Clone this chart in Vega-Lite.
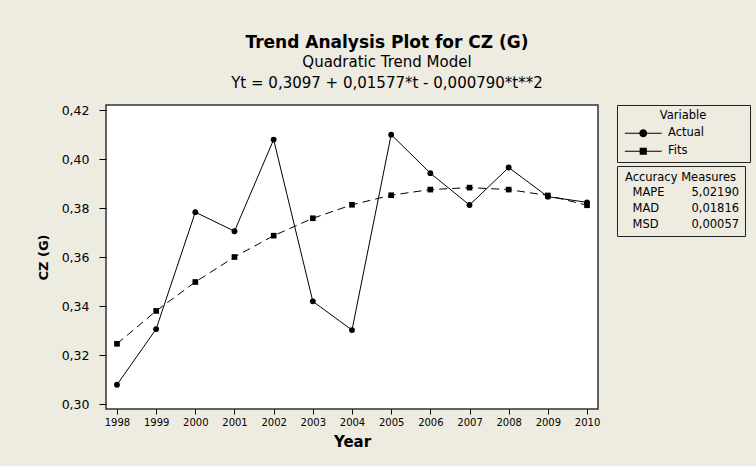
{
  "$schema": "https://vega.github.io/schema/vega-lite/v6.json",
  "autosize": {"type": "none"},
  "padding": {"left": 106, "top": 105, "right": 158, "bottom": 57},
  "width": 492,
  "height": 304,
  "background": "#EEEBE1",
  "title": {
    "text": "Trend Analysis Plot for CZ (G)",
    "subtitle": ["Quadratic Trend Model", "Yt = 0,3097 + 0,01577*t - 0,000790*t**2"],
    "anchor": "middle",
    "dx": 35,
    "offset": 10,
    "fontSize": 17,
    "fontWeight": "bold",
    "color": "black",
    "subtitleFontSize": 15,
    "subtitleColor": "black",
    "subtitlePadding": 3,
    "subtitleLineHeight": 21
  },
  "config": {
    "font": "DejaVu Sans",
    "view": {"stroke": "#333333", "strokeWidth": 1.5, "fill": "white"}
  },
  "data": {
    "values": [
      {"Year": 1998, "Series": "Actual", "Value": 0.308},
      {"Year": 1999, "Series": "Actual", "Value": 0.3307},
      {"Year": 2000, "Series": "Actual", "Value": 0.3784},
      {"Year": 2001, "Series": "Actual", "Value": 0.3706},
      {"Year": 2002, "Series": "Actual", "Value": 0.408},
      {"Year": 2003, "Series": "Actual", "Value": 0.342},
      {"Year": 2004, "Series": "Actual", "Value": 0.3303},
      {"Year": 2005, "Series": "Actual", "Value": 0.41},
      {"Year": 2006, "Series": "Actual", "Value": 0.3943},
      {"Year": 2007, "Series": "Actual", "Value": 0.3813},
      {"Year": 2008, "Series": "Actual", "Value": 0.3966},
      {"Year": 2009, "Series": "Actual", "Value": 0.3847},
      {"Year": 2010, "Series": "Actual", "Value": 0.3824},
      {"Year": 1998, "Series": "Fits", "Value": 0.3247},
      {"Year": 1999, "Series": "Fits", "Value": 0.3381},
      {"Year": 2000, "Series": "Fits", "Value": 0.3499},
      {"Year": 2001, "Series": "Fits", "Value": 0.3601},
      {"Year": 2002, "Series": "Fits", "Value": 0.3688},
      {"Year": 2003, "Series": "Fits", "Value": 0.3759},
      {"Year": 2004, "Series": "Fits", "Value": 0.3814},
      {"Year": 2005, "Series": "Fits", "Value": 0.3853},
      {"Year": 2006, "Series": "Fits", "Value": 0.3876},
      {"Year": 2007, "Series": "Fits", "Value": 0.3884},
      {"Year": 2008, "Series": "Fits", "Value": 0.3876},
      {"Year": 2009, "Series": "Fits", "Value": 0.3852},
      {"Year": 2010, "Series": "Fits", "Value": 0.3812}
    ]
  },
  "encoding": {
    "x": {
      "field": "Year",
      "type": "ordinal",
      "scale": {"type": "point", "padding": 0.28},
      "axis": {
        "title": "Year",
        "labelAngle": 0,
        "domain": false,
        "tickSize": 5,
        "tickColor": "black",
        "labelFontSize": 10,
        "labelColor": "black",
        "labelPadding": 3,
        "titleFontSize": 15,
        "titleFontWeight": "bold",
        "titleColor": "black",
        "titlePadding": 7
      }
    },
    "y": {
      "field": "Value",
      "type": "quantitative",
      "scale": {"domain": [0.2981, 0.4221], "nice": false, "zero": false},
      "axis": {
        "title": "CZ (G)",
        "values": [0.30, 0.32, 0.34, 0.36, 0.38, 0.40, 0.42],
        "labelExpr": "replace(format(datum.value, '.2f'), '.', ',')",
        "grid": false,
        "domain": false,
        "tickSize": 7,
        "tickColor": "black",
        "labelFontSize": 12.5,
        "labelColor": "black",
        "labelPadding": 10,
        "titleFontSize": 13,
        "titleFontWeight": "bold",
        "titleColor": "black",
        "titlePadding": 11
      }
    }
  },
  "layer": [
    {
      "transform": [{"filter": "datum.Series === 'Fits'"}],
      "mark": {"type": "line", "color": "black", "strokeWidth": 1, "strokeDash": [8, 5]},
      "encoding": {}
    },
    {
      "transform": [{"filter": "datum.Series === 'Actual'"}],
      "mark": {"type": "line", "color": "black", "strokeWidth": 1},
      "encoding": {}
    },
    {
      "transform": [{"filter": "datum.Series === 'Fits'"}],
      "mark": {"type": "point", "shape": "square", "filled": true, "color": "black", "opacity": 1, "size": 32},
      "encoding": {}
    },
    {
      "transform": [{"filter": "datum.Series === 'Actual'"}],
      "mark": {"type": "point", "shape": "circle", "filled": true, "color": "black", "opacity": 1, "size": 34},
      "encoding": {}
    },
    {
      "mark": {"type": "point", "filled": true, "color": "black", "opacity": 0},
      "encoding": {
        "shape": {
          "field": "Series",
          "type": "nominal",
          "scale": {
            "domain": ["Actual", "Fits"],
            "range": [
              "M-4.6,-0.15L4.6,-0.15L4.6,0.15L-4.6,0.15ZM-1,0A1,1,0,1,1,1,0A1,1,0,1,1,-1,0Z",
              "M-4.6,-0.15L4.6,-0.15L4.6,0.15L-4.6,0.15ZM-0.9,-0.9L0.9,-0.9L0.9,0.9L-0.9,0.9Z"
            ]
          },
          "legend": {
            "title": "Variable",
            "orient": "none",
            "legendX": 511,
            "legendY": 0,
            "titleAnchor": "middle",
            "titleFontSize": 11.5,
            "titleFontWeight": "normal",
            "titleColor": "black",
            "titlePadding": 6,
            "labelFontSize": 11.5,
            "labelColor": "black",
            "labelExpr": "datum.label + '           \u200b'",
            "strokeColor": "#222222",
            "padding": 5,
            "symbolSize": 64,
            "symbolOffset": 15.5,
            "labelOffset": 19,
            "rowPadding": 5,
            "symbolFillColor": "black",
            "symbolStrokeColor": "black",
            "symbolStrokeWidth": 1,
            "symbolOpacity": 1
          }
        }
      }
    },
    {
      "data": {
        "values": [
          {"Entry": "MAPE"},
          {"Entry": "MAD"},
          {"Entry": "MSD"},
          {"Entry": "5,02190"},
          {"Entry": "0,01816"},
          {"Entry": "0,00057"}
        ]
      },
      "mark": {"type": "point", "opacity": 0},
      "encoding": {
        "x": {"value": 0},
        "y": {"value": 0},
        "color": {
          "field": "Entry",
          "type": "nominal",
          "scale": {
            "domain": ["MAPE", "MAD", "MSD", "5,02190", "0,01816", "0,00057"],
            "range": ["black", "black", "black", "black", "black", "black"]
          },
          "legend": {
            "title": "Accuracy Measures",
            "orient": "none",
            "legendX": 511,
            "legendY": 61,
            "columns": 2,
            "gridAlign": "each",
            "columnPadding": 17,
            "rowPadding": 3,
            "titleAnchor": "middle",
            "titleFontSize": 11.5,
            "titleFontWeight": "normal",
            "titleColor": "black",
            "titlePadding": 4,
            "labelFontSize": 11.5,
            "labelColor": "black",
            "labelOffset": -1.5,
            "symbolSize": 0.0001,
            "symbolOpacity": 0,
            "symbolStrokeWidth": 0,
            "strokeColor": "#222222",
            "padding": 5.5
          }
        }
      }
    }
  ]
}
